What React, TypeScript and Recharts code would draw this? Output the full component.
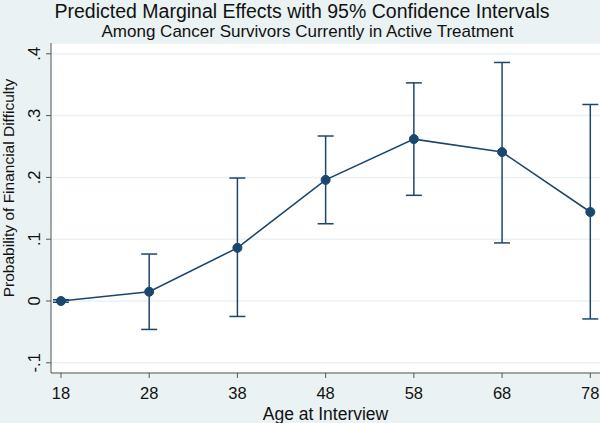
import { ComposedChart, Line, ErrorBar, XAxis, YAxis, CartesianGrid } from 'recharts';

const ages = [18, 28, 38, 48, 58, 68, 78];
const margins = [0.0, 0.015, 0.086, 0.196, 0.262, 0.241, 0.144];
const lower = [-0.002, -0.046, -0.025, 0.125, 0.171, 0.094, -0.029];
const upper = [0.002, 0.076, 0.199, 0.267, 0.353, 0.386, 0.318];
const yTicks = [-0.1, 0, 0.1, 0.2, 0.3, 0.4];

const data = ages.map((age, i) => ({
  age,
  margin: margins[i],
  ci: [margins[i] - lower[i], upper[i] - margins[i]],
}));

const NAVY = '#1A476F';
const BG = '#EAF2F3';
const FONT = '"Liberation Sans", Arial, sans-serif';

// stata style labels: .1, -.1, 0
const fmt = (v: number) => (v === 0 ? '0' : v.toFixed(1).replace('0.', '.'));

function YTick({ x, y, payload }: any) {
  return (
    <g transform={`translate(${x - 4},${y}) rotate(-90)`}>
      <text x={0} y={0} textAnchor="middle" fontSize={16.5} fill="#111" fontFamily={FONT}>
        {fmt(payload.value)}
      </text>
    </g>
  );
}

export default function App() {
  return (
    <div style={{ position: 'absolute', left: 0, top: 0, width: 600, height: 423, background: BG, fontFamily: FONT }}>
      <div style={{ position: 'absolute', left: 0, top: 0.8, width: 604, textAlign: 'center', fontSize: 19.5, lineHeight: '20px', color: '#111', whiteSpace: 'nowrap' }}>
        Predicted Marginal Effects with 95% Confidence Intervals
      </div>
      <div style={{ position: 'absolute', left: 0, top: 23, width: 615, textAlign: 'center', fontSize: 17, lineHeight: '17px', color: '#111', whiteSpace: 'nowrap' }}>
        Among Cancer Survivors Currently in Active Treatment
      </div>
      <ComposedChart
        width={600}
        height={423}
        data={data}
        margin={{ top: 43, right: 0, left: 0, bottom: 0 }}
        style={{ position: 'absolute', left: 0, top: 0 }}
      >
        <CartesianGrid vertical={false} stroke={BG} strokeWidth={1.5} fill="#fff" />
        <XAxis
          dataKey="age"
          type="number"
          domain={[16.87, 79.1]}
          allowDataOverflow
          ticks={ages}
          height={50}
          stroke="#555"
          tickSize={5}
          tickMargin={9}
          tick={{ fontSize: 16.5, fill: '#111', fontFamily: FONT }}
          label={{ value: 'Age at Interview', position: 'insideBottom', offset: 3, fontSize: 17.5, fill: '#111', fontFamily: FONT }}
        />
        <YAxis
          type="number"
          domain={[-0.1165, 0.4175]}
          allowDataOverflow
          ticks={yTicks}
          width={51}
          stroke="#555"
          tickSize={5}
          tick={<YTick />}
          label={{
            content: () => (
              <text
                transform="translate(14,188) rotate(-90)"
                textAnchor="middle"
                fontSize={15.5}
                fill="#111"
                fontFamily={FONT}
              >
                Probability of Financial Difficulty
              </text>
            ),
          }}
        />
        <Line
          dataKey="margin"
          stroke={NAVY}
          strokeWidth={1.6}
          dot={{ r: 4.5, fill: NAVY, stroke: NAVY, strokeWidth: 1 }}
          activeDot={false}
          isAnimationActive={false}
        >
          <ErrorBar dataKey="ci" direction="y" width={8} stroke={NAVY} strokeWidth={1.5} isAnimationActive={false} />
        </Line>
      </ComposedChart>
    </div>
  );
}
